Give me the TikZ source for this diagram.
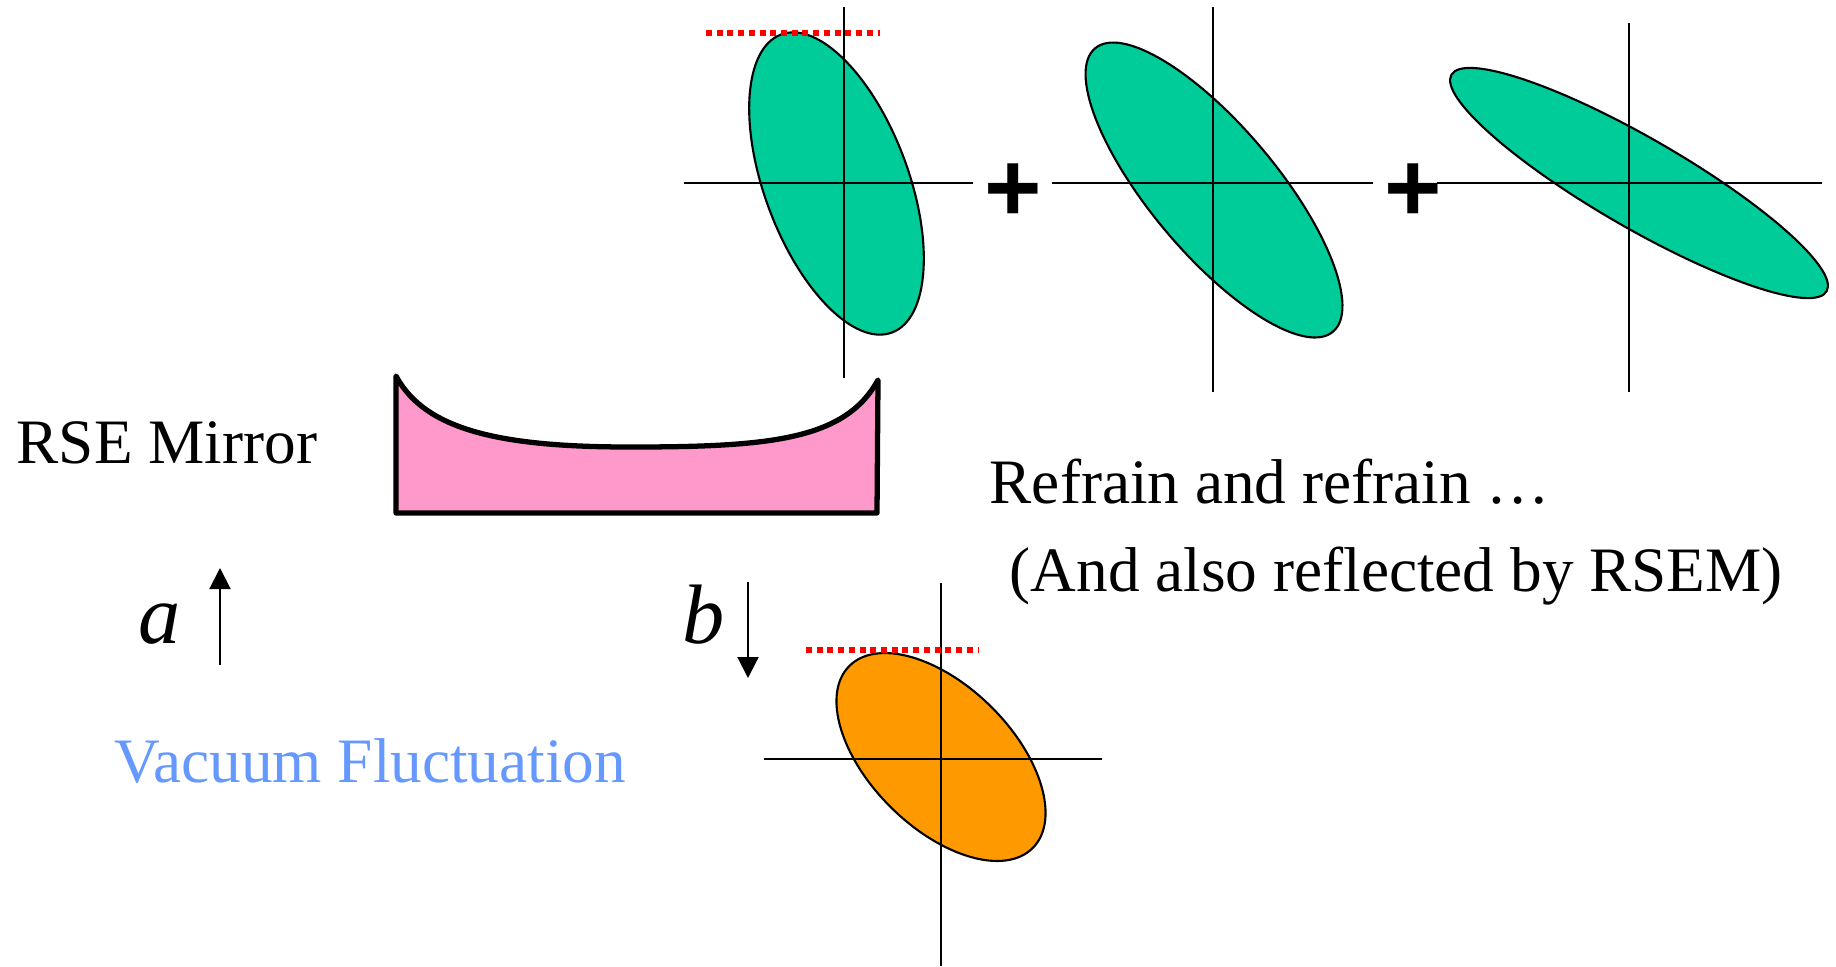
\documentclass[tikz,border=0pt]{standalone}
\usepackage{fontspec}
\setmainfont{Liberation Serif}
\newfontfamily\plusfont{Liberation Sans}
\usetikzlibrary{arrows.meta}
\definecolor{quadgreen}{RGB}{0,204,153}
\definecolor{quadorange}{RGB}{255,153,0}
\definecolor{mirrorpink}{RGB}{255,153,204}
\definecolor{vacblue}{RGB}{102,153,255}

\begin{document}
\begin{tikzpicture}[
  axis/.style={line width=0.6pt},
  quad/.style={draw, line width=0.6pt},
  topline/.style={red, line width=1.7pt, dash pattern=on 1.7pt off 1.35pt},
  txt/.style={inner sep=0pt, anchor=base west, font=\fontsize{18}{21}\selectfont},
  amp/.style={inner sep=0pt, anchor=base west, font=\itshape\fontsize{24}{28}\selectfont},
  plussign/.style={inner sep=0pt, font=\plusfont\bfseries\fontsize{28}{30}\selectfont},
  flow/.style={line width=0.6pt, -{Triangle[width=2.1mm,length=2.1mm]}}
]
  \useasboundingbox (0,0) rectangle (18.36,-9.66);

  % Reflected quadratures
  \foreach \cx/\cy/\ra/\rb/\ang in {8.365/-1.835/1.59/0.72/110.4, 12.14/-1.90/1.85/0.633/130, 16.39/-1.83/2.166/0.449/-30}
    \draw[quad, fill=quadgreen, rotate around={\ang:(\cx,\cy)}] (\cx,\cy) ellipse [x radius=\ra, y radius=\rb];
  \foreach \hl/\hr/\vx/\vt/\vb in {6.84/9.73/8.44/-0.07/-3.78, 10.52/13.73/12.13/-0.07/-3.92, 14.37/18.22/16.29/-0.23/-3.92}
    \draw[axis] (\hl,-1.83) -- (\hr,-1.83) (\vx,\vt) -- (\vx,\vb);
  \draw[topline] (7.06,-0.33) -- (8.80,-0.33);
  \node[plussign] (plusA) at (10.13,-1.93) {+};
  \node[plussign] (plusB) at (14.13,-1.93) {+};

  % Mirror
  \draw[fill=mirrorpink, line width=1.5pt, line join=round]
    (3.96,-3.76) .. controls (4.25,-4.30) and (5.00,-4.47) .. (6.30,-4.47)
    .. controls (7.70,-4.47) and (8.45,-4.40) .. (8.78,-3.80)
    -- (8.77,-5.13) -- (3.96,-5.13) -- cycle;
  \node[txt] (mirror) at (0.16,-4.63) {RSE Mirror};

  \node[txt] (refrain) at (9.89,-5.03) {Refrain and refrain …};
  \node[txt] (rsem) at (10.09,-5.91) {(And also reflected by RSEM)};

  % Input and output fields
  \node[amp] (ampa) at (1.38,-6.43) {a};
  \node[amp] (ampb) at (6.82,-6.43) {b};
  \coordinate (aTail) at (2.20,-6.65);
  \coordinate (aHead) at (2.20,-5.68);
  \coordinate (bTail) at (7.48,-5.82);
  \coordinate (bHead) at (7.48,-6.78);
  \draw[flow] (aTail) -- (aHead);
  \draw[flow] (bTail) -- (bHead);
  \node[txt, text=vacblue] (vacuum) at (1.14,-7.82) {Vacuum Fluctuation};

  % Output quadrature
  \draw[quad, fill=quadorange, rotate around={-44.7:(9.41,-7.57)}] (9.41,-7.57) ellipse [x radius=1.292, y radius=0.71];
  \draw[axis] (7.64,-7.59) -- (11.02,-7.59) (9.41,-5.83) -- (9.41,-9.66);
  \draw[topline] (8.06,-6.50) -- (9.78,-6.50);
\end{tikzpicture}
\end{document}
